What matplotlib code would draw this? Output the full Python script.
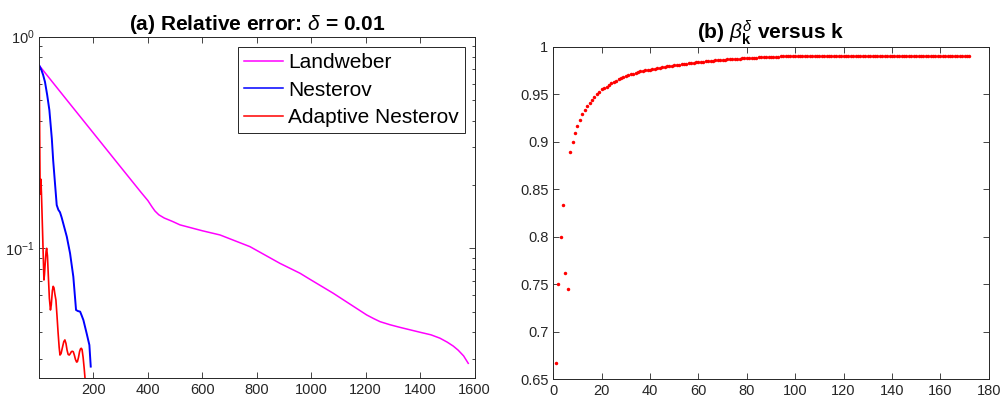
import matplotlib
matplotlib.use('Agg')
import matplotlib.pyplot as plt
from matplotlib.ticker import FormatStrFormatter, LogLocator, NullFormatter

plt.rcParams['font.family'] = ['Liberation Sans', 'DejaVu Sans']
plt.rcParams['mathtext.fontset'] = 'custom'
plt.rcParams['mathtext.rm'] = 'Liberation Sans'
plt.rcParams['mathtext.it'] = 'Liberation Sans:italic'
plt.rcParams['mathtext.bf'] = 'Liberation Sans:bold'

# relative error histories (iteration, error)
land_k = [1, 100, 200, 300, 376, 400, 415, 426, 440, 460, 490, 518, 600, 665,
          775, 885, 959, 995, 1081, 1204, 1230, 1253, 1290, 1326, 1400, 1440,
          1473, 1500, 1522, 1540, 1560, 1577]
land_err = [0.73, 0.506, 0.35, 0.242, 0.183, 0.168, 0.157, 0.150, 0.144, 0.139,
            0.134, 0.129, 0.121, 0.1156, 0.1018, 0.0849, 0.0762, 0.0714, 0.0613,
            0.0484, 0.0465, 0.045, 0.0435, 0.0423, 0.0401, 0.039, 0.0376, 0.036,
            0.0345, 0.033, 0.031, 0.0286]

nest_k = [1, 8, 15, 22, 30, 38, 47, 52, 59, 65, 71, 77, 83, 89, 102, 114, 126,
          136, 143, 151, 157, 163, 175, 185, 190]
nest_err = [0.73, 0.70, 0.66, 0.61, 0.53, 0.45, 0.33, 0.26, 0.20, 0.16, 0.152,
            0.148, 0.14, 0.131, 0.1135, 0.0947, 0.0734, 0.0511, 0.0505, 0.0502,
            0.048, 0.0458, 0.0396, 0.0349, 0.0276]

adap_k = [1, 2, 3, 4, 5, 6, 7, 9, 13, 18, 20, 23, 26, 28, 31, 34, 38, 42, 45,
          49, 52, 55, 58, 62, 66, 70, 74, 77, 81, 86, 91, 95, 99, 103, 107, 111,
          115, 119, 123, 126, 130, 134, 138, 141, 145, 149, 152, 155, 158, 162,
          166, 169, 172]
adap_err = [0.62, 0.42, 0.27, 0.19, 0.18, 0.20, 0.212, 0.18, 0.12, 0.0708,
            0.075, 0.086, 0.097, 0.100, 0.092, 0.075, 0.058, 0.0511, 0.054,
            0.063, 0.0661, 0.065, 0.061, 0.057, 0.048, 0.040, 0.034, 0.0313,
            0.0318, 0.034, 0.0362, 0.0369, 0.0355, 0.033, 0.0315, 0.0313,
            0.0318, 0.0325, 0.0326, 0.0324, 0.0312, 0.0298, 0.029, 0.0291,
            0.0305, 0.0325, 0.0334, 0.0337, 0.0333, 0.0305, 0.027, 0.0243,
            0.0235]

# adaptive momentum coefficients beta_k
beta = [0.667, 0.750, 0.800, 0.833, 0.762, 0.745, 0.889, 0.900, 0.909,
        0.917, 0.923, 0.929, 0.933, 0.938, 0.941, 0.944, 0.947, 0.950, 0.952,
        0.955, 0.957, 0.958, 0.960, 0.962, 0.963, 0.964, 0.966, 0.967, 0.968,
        0.969, 0.970, 0.971, 0.971, 0.972, 0.973, 0.974, 0.974, 0.975, 0.976,
        0.976, 0.977, 0.977, 0.978, 0.978, 0.979, 0.979, 0.980, 0.980, 0.980,
        0.981, 0.981, 0.981, 0.982, 0.982, 0.982, 0.983, 0.983, 0.983, 0.984,
        0.984, 0.984, 0.984, 0.985, 0.985, 0.985, 0.985, 0.986, 0.986, 0.986,
        0.986, 0.986, 0.987, 0.987, 0.987, 0.987, 0.987, 0.987, 0.988, 0.988,
        0.988, 0.988, 0.988, 0.988, 0.988, 0.989, 0.989, 0.989, 0.989, 0.989,
        0.989, 0.989, 0.989, 0.989, 0.990, 0.990, 0.990, 0.990, 0.990, 0.990,
        0.990, 0.990, 0.990, 0.990, 0.990, 0.990, 0.990, 0.990, 0.990, 0.990,
        0.990, 0.990, 0.990, 0.990, 0.990, 0.990, 0.990, 0.990, 0.990, 0.990,
        0.990, 0.990, 0.990, 0.990, 0.990, 0.990, 0.990, 0.990, 0.990, 0.990,
        0.990, 0.990, 0.990, 0.990, 0.990, 0.990, 0.990, 0.990, 0.990, 0.990,
        0.990, 0.990, 0.990, 0.990, 0.990, 0.990, 0.990, 0.990, 0.990, 0.990,
        0.990, 0.990, 0.990, 0.990, 0.990, 0.990, 0.990, 0.990, 0.990, 0.990,
        0.990, 0.990, 0.990, 0.990, 0.990, 0.990, 0.990, 0.990, 0.990, 0.990,
        0.990, 0.990, 0.990]
beta_k = list(range(1, len(beta) + 1))

axis_col = '#262626'


def matlab_axes(ax):
    for s in ax.spines.values():
        s.set_color(axis_col)
        s.set_linewidth(0.7)
    ax.tick_params(which='both', direction='in', top=True, right=True,
                   colors=axis_col, labelsize=10.5, width=0.6)
    ax.tick_params(which='major', length=4)
    ax.tick_params(which='minor', length=2.5)


fig = plt.figure(figsize=(10, 4.03), dpi=100)

# (a) relative errors
ax1 = fig.add_axes([0.0393, 0.0613, 0.4352, 0.8477])
ax1.semilogy(land_k, land_err, color='#ff00ff', lw=1.1, label='Landweber')
ax1.semilogy(nest_k, nest_err, color='#0000ff', lw=1.4, label='Nesterov')
ax1.semilogy(adap_k, adap_err, color='#ff0000', lw=1.2, label='Adaptive Nesterov')
ax1.set_xlim(1, 1600)
ax1.set_ylim(0.0243, 1)
ax1.set_xticks(range(200, 1601, 200))
ax1.yaxis.set_major_locator(LogLocator(base=10, numticks=5))
ax1.yaxis.set_minor_locator(LogLocator(base=10, subs=range(2, 10), numticks=20))
ax1.yaxis.set_minor_formatter(NullFormatter())
matlab_axes(ax1)
ax1.set_title(r'(a) Relative error: $\delta$ = 0.01', fontsize=15,
              fontweight='bold', pad=5)
leg = ax1.legend(loc='upper right', bbox_to_anchor=(0.978, 0.970),
                 borderaxespad=0, fontsize=15, fancybox=False, framealpha=1,
                 edgecolor=axis_col, labelspacing=0.4, handlelength=1.85,
                 handletextpad=0.25, borderpad=0.3)
leg.get_frame().set_linewidth(0.7)
for line in leg.get_lines():
    line.set_linewidth(1.1)

# (b) momentum coefficients
ax2 = fig.add_axes([0.5533, 0.0588, 0.4354, 0.8253])
ax2.plot(beta_k, beta, linestyle='none', marker='o', markersize=2.5,
         markeredgewidth=0, color='#ff0000')
ax2.set_xlim(0, 180)
ax2.set_ylim(0.65, 1)
ax2.set_xticks(range(0, 181, 20))
ax2.set_yticks([0.65, 0.7, 0.75, 0.8, 0.85, 0.9, 0.95, 1])
ax2.yaxis.set_major_formatter(FormatStrFormatter('%g'))
matlab_axes(ax2)
ax2.set_title(r'(b) $\beta^{\delta}_{\mathbf{k}}$ versus k', fontsize=15,
              fontweight='bold', pad=5)

plt.savefig('out.png')
plt.close()
